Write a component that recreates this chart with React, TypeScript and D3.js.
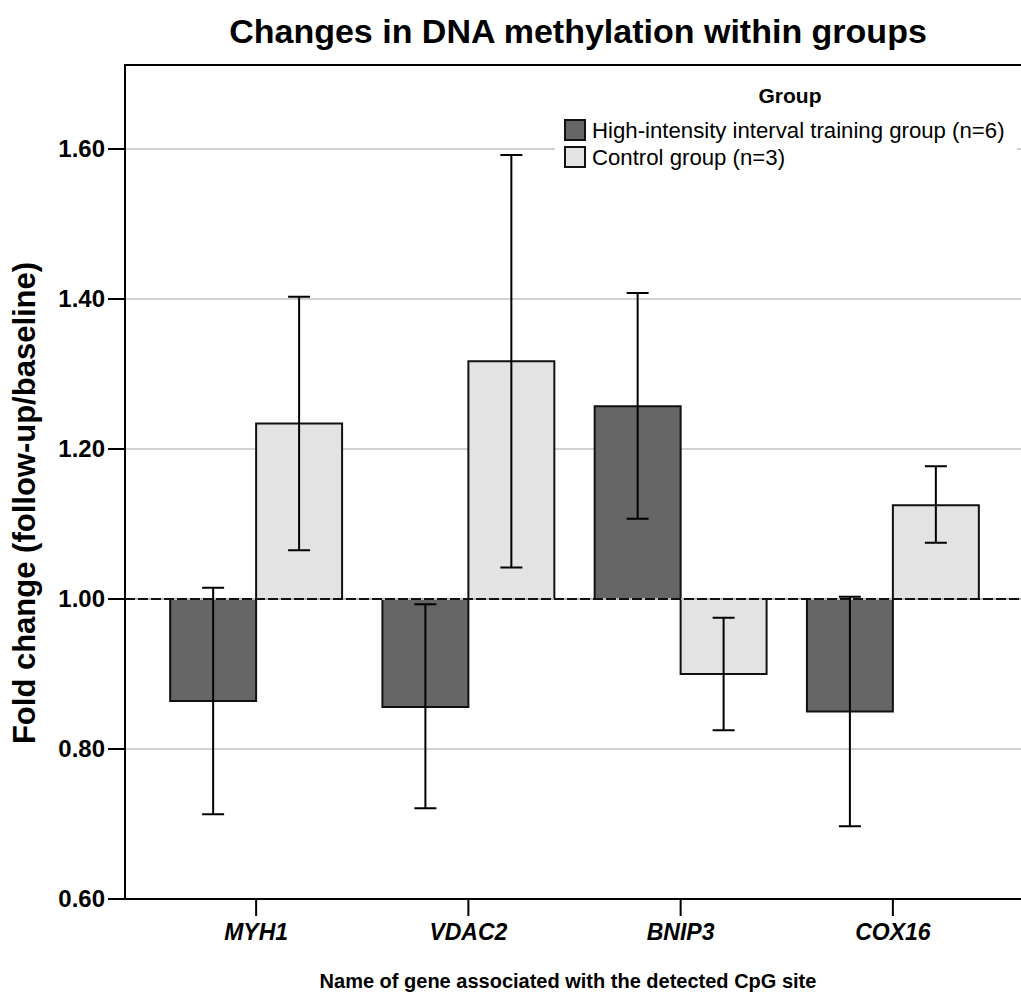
import React from "react";
import * as d3 from "d3";

const genes = ["MYH1", "VDAC2", "BNIP3", "COX16"];
const groups = ["High-intensity interval training group (n=6)", "Control group (n=3)"];
const hiitMean = [0.864, 0.856, 1.257, 0.85];
const hiitLow = [0.713, 0.721, 1.107, 0.697];
const hiitHigh = [1.015, 0.993, 1.408, 1.003];
const ctrlMean = [1.234, 1.317, 0.9, 1.125];
const ctrlLow = [1.065, 1.042, 0.825, 1.075];
const ctrlHigh = [1.403, 1.592, 0.975, 1.177];
const yTicks = [0.6, 0.8, 1.0, 1.2, 1.4, 1.6];
const colors = ["#666666", "#e3e3e3"];

export default function App() {
  const W = 1021, H = 1005;
  const left = 125, right = 1023, top = 65, bottom = 899;
  const y = d3.scaleLinear().domain([0.6, 1.712]).range([bottom, top]);
  const x0 = d3.scaleBand<string>().domain(genes).range([150, 999]).paddingInner(0.19).paddingOuter(0.095);
  const x1 = d3.scaleBand<string>().domain(groups).range([0, x0.bandwidth()]).padding(0);
  const series = [
    { g: groups[0], mean: hiitMean, lo: hiitLow, hi: hiitHigh, c: colors[0] },
    { g: groups[1], mean: ctrlMean, lo: ctrlLow, hi: ctrlHigh, c: colors[1] },
  ];
  const font = "Arial, 'Liberation Sans', Helvetica, sans-serif";
  const base = y(1.0);
  return (
    <svg width={W} height={H} style={{ display: "block", position: "absolute", left: 0, top: 0 }} fontFamily={font}>
      <rect x={0} y={0} width={W} height={H} fill="#fff" />
      <text x={578} y={43} textAnchor="middle" fontSize={34} fontWeight="bold" fill="#000">Changes in DNA methylation within groups</text>
      {yTicks.filter(t => t !== 0.6 && t !== 1.0).map(t => (
        <line key={t} x1={left} x2={right} y1={y(t)} y2={y(t)} stroke="#d2d2d2" strokeWidth={2} />
      ))}
      {/* legend background */}
      <rect x={555} y={76} width={462} height={98} fill="#fff" />
      <text x={790} y={103} textAnchor="middle" fontSize={21} fontWeight="bold" fill="#000">Group</text>
      {groups.map((g, i) => (
        <g key={g}>
          <rect x={565} y={120 + i * 27} width={20} height={20} fill={colors[i]} stroke="#111" strokeWidth={2} />
          <text x={592} y={138 + i * 27} fontSize={22.2} fill="#000">{g}</text>
        </g>
      ))}
      {/* bars */}
      {series.map(s => genes.map((gene, i) => {
        const bx = (x0(gene) as number) + (x1(s.g) as number);
        const v = s.mean[i];
        const y0 = Math.min(y(v), base), y1 = Math.max(y(v), base);
        return <rect key={s.g + gene} x={bx} y={y0} width={x1.bandwidth()} height={y1 - y0} fill={s.c} stroke="#111" strokeWidth={2} />;
      }))}
      {/* baseline reference line */}
      <line x1={left} x2={right} y1={base} y2={base} stroke="#bbb" strokeWidth={2} />
      <line x1={left} x2={right} y1={base} y2={base} stroke="#111" strokeWidth={2} strokeDasharray="10 3" />
      {/* error bars */}
      {series.map(s => genes.map((gene, i) => {
        const cx = (x0(gene) as number) + (x1(s.g) as number) + x1.bandwidth() / 2;
        return (
          <g key={"e" + s.g + gene} stroke="#000" strokeWidth={2}>
            <line x1={cx} x2={cx} y1={y(s.lo[i])} y2={y(s.hi[i])} />
            <line x1={cx - 11} x2={cx + 11} y1={y(s.lo[i])} y2={y(s.lo[i])} />
            <line x1={cx - 11} x2={cx + 11} y1={y(s.hi[i])} y2={y(s.hi[i])} />
          </g>
        );
      }))}
      {/* frame */}
      <line x1={left} x2={right} y1={top} y2={top} stroke="#000" strokeWidth={2} />
      <line x1={left} x2={left} y1={top - 1} y2={bottom + 1} stroke="#000" strokeWidth={2} />
      <line x1={left} x2={right} y1={bottom} y2={bottom} stroke="#000" strokeWidth={2} />
      {/* y ticks */}
      {yTicks.map(t => (
        <g key={"t" + t}>
          <line x1={left - 17} x2={left} y1={y(t)} y2={y(t)} stroke="#000" strokeWidth={2} />
          <text x={left - 20} y={y(t) + 8} textAnchor="end" fontSize={24} fontWeight="bold" fill="#000">{t.toFixed(2)}</text>
        </g>
      ))}
      {/* x ticks */}
      {genes.map(gene => {
        const cx = (x0(gene) as number) + x0.bandwidth() / 2;
        return (
          <g key={"x" + gene}>
            <line x1={cx} x2={cx} y1={bottom} y2={bottom + 17} stroke="#000" strokeWidth={2} />
            <text x={cx} y={940} textAnchor="middle" fontSize={23} fontWeight="bold" fontStyle="italic" fill="#000">{gene}</text>
          </g>
        );
      })}
      <text x={568} y={988} textAnchor="middle" fontSize={20} fontWeight="bold" fill="#000">Name of gene associated with the detected CpG site</text>
      <text transform={`translate(35,503) rotate(-90)`} textAnchor="middle" fontSize={31} fontWeight="bold" fill="#000">Fold change (follow-up/baseline)</text>
    </svg>
  );
}
